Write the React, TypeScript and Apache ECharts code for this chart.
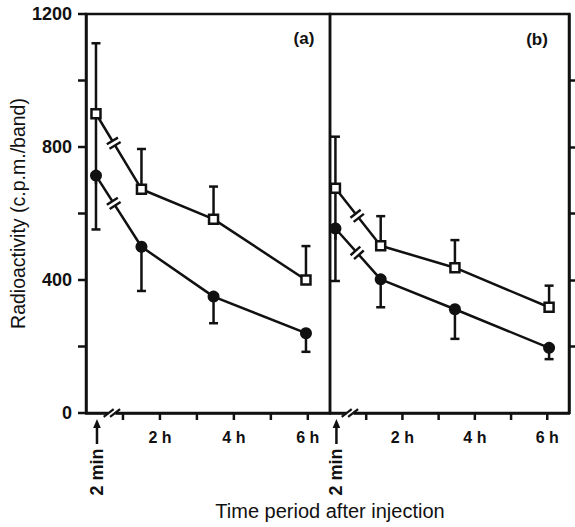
import React, { useEffect, useRef } from "react";
import * as echarts from "echarts";

// ---- data ----
const yTickValues = [0, 200, 400, 600, 800, 1000, 1200];
const yLabelValues = [0, 400, 800, 1200];
const rightTickValues = [200, 400, 600, 800, 1000];
const xTickHours = [1, 2, 3, 4, 5, 6];
const xLabelHours = [2, 4, 6];

const timesA = [0.27, 1.5, 3.45, 5.95];
const squareA = [900, 673, 583, 400];
const squareErrTopA = [1112, 794, 681, 502];
const squareErrLowA = [688, null, null, null];
const circleA = [714, 500, 350, 240];
const circleErrBottomA = [552, 367, 270, 184];

const timesB = [0.15, 1.4, 3.45, 6.05];
const squareB = [676, 503, 437, 318];
const squareErrTopB = [831, 592, 520, 383];
const squareErrLowB = [521, null, null, null];
const circleB = [555, 402, 312, 196];
const circleErrBottomB = [397, 318, 223, 162];

const lineBreakX = [0.75, 0.75];
const axisBreakX = [0.7, 0.55];
const panelLabels = ["(a)", "(b)"];
const startLabel = "2 min";
const yTitle = "Radioactivity (c.p.m./band)";
const xTitle = "Time period after injection";

const INK = "#111";
const FONT = '"Liberation Sans", Arial, Helvetica, sans-serif';

function errorData(times: number[], vals: number[], tops: (number | null)[] | null, bottoms: (number | null)[] | null, lows: (number | null)[] | null) {
  const out: number[][] = [];
  times.forEach((t, i) => {
    if (tops && tops[i] != null) out.push([t, vals[i], tops[i] as number, 0, 1]);
    if (bottoms && bottoms[i] != null) out.push([t, bottoms[i] as number, vals[i], 1, 0]);
    if (lows && lows[i] != null) out.push([t, lows[i] as number, vals[i], 0, 0]);
  });
  return out;
}

function renderError(params: any, api: any) {
  const x = api.value(0);
  const lo = api.value(1);
  const hi = api.value(2);
  const capLo = api.value(3);
  const capHi = api.value(4);
  const pLo = api.coord([x, lo]);
  const pHi = api.coord([x, hi]);
  const style = { stroke: INK, lineWidth: 2.5 };
  const children: any[] = [
    { type: "line", shape: { x1: pLo[0], y1: pLo[1], x2: pHi[0], y2: pHi[1] }, style },
  ];
  const cw = 4.5;
  if (capLo) children.push({ type: "line", shape: { x1: pLo[0] - cw, y1: pLo[1], x2: pLo[0] + cw, y2: pLo[1] }, style });
  if (capHi) children.push({ type: "line", shape: { x1: pHi[0] - cw, y1: pHi[1], x2: pHi[0] + cw, y2: pHi[1] }, style });
  return { type: "group", children };
}

function renderLineBreak(params: any, api: any) {
  const bx = api.value(0);
  const x1 = api.value(1), y1 = api.value(2), x2 = api.value(3), y2 = api.value(4);
  const p1 = api.coord([x1, y1]);
  const p2 = api.coord([x2, y2]);
  const t = (bx - x1) / (x2 - x1);
  const c = [p1[0] + t * (p2[0] - p1[0]), p1[1] + t * (p2[1] - p1[1])];
  const len = Math.hypot(p2[0] - p1[0], p2[1] - p1[1]);
  const d = [(p2[0] - p1[0]) / len, (p2[1] - p1[1]) / len];
  const n = [-d[1], d[0]];
  const g = 2.6;
  const w = 3;
  const h = 6.5;
  const pt = (a: number, b: number) => [c[0] + d[0] * a + n[0] * b, c[1] + d[1] * a + n[1] * b];
  const style = { stroke: INK, lineWidth: 2.4 };
  return {
    type: "group",
    children: [
      { type: "polygon", shape: { points: [pt(-g, -w), pt(g, -w), pt(g, w), pt(-g, w)] }, style: { fill: "#fff" } },
      { type: "line", shape: { x1: pt(-g, -h)[0], y1: pt(-g, -h)[1], x2: pt(-g, h)[0], y2: pt(-g, h)[1] }, style },
      { type: "line", shape: { x1: pt(g, -h)[0], y1: pt(g, -h)[1], x2: pt(g, h)[0], y2: pt(g, h)[1] }, style },
    ],
  };
}

function renderAxisBreak(params: any, api: any) {
  const c = api.coord([api.value(0), 0]);
  const style = { stroke: INK, lineWidth: 2.2 };
  const children: any[] = [
    { type: "rect", shape: { x: c[0] - 3.5, y: c[1] - 2.5, width: 7, height: 5 }, style: { fill: "#fff" } },
  ];
  [-3.2, 3.2].forEach((o) => {
    children.push({ type: "line", shape: { x1: c[0] + o - 5, y1: c[1] + 3.8, x2: c[0] + o + 5, y2: c[1] - 3.8 }, style });
  });
  return { type: "group", children };
}

function renderStart(params: any, api: any) {
  const c = api.coord([api.value(0), 0]);
  const x = c[0] + 1;
  const style = { stroke: INK, lineWidth: 2.5 };
  return {
    type: "group",
    children: [
      { type: "line", shape: { x1: x, y1: c[1] + 12, x2: x, y2: c[1] + 31 }, style },
      { type: "polygon", shape: { points: [[x, c[1] + 6], [x - 3.8, c[1] + 15], [x + 3.8, c[1] + 15]] }, style: { fill: INK } },
      {
        type: "text",
        x: x,
        y: c[1] + 59,
        rotation: Math.PI / 2,
        style: { text: startLabel, x: 0, y: 0, align: "center", verticalAlign: "middle", font: `bold 18px ${FONT}`, fill: INK },
      },
    ],
  };
}

function panelSeries(idx: number, times: number[], sq: number[], sqTop: (number | null)[], sqLow: (number | null)[], ci: number[], ciBot: (number | null)[]) {
  const base = { xAxisIndex: idx, yAxisIndex: idx };
  return [
    {
      ...base,
      type: "custom",
      renderItem: renderError,
      data: [...errorData(times, sq, sqTop, null, sqLow), ...errorData(times, ci, null, ciBot, null)],
      encode: { x: 0, y: 1 },
      clip: false,
      z: 1,
      silent: true,
    },
    {
      ...base,
      type: "line",
      data: times.map((t, i) => [t, sq[i]]),
      symbol: "rect",
      symbolSize: 9,
      itemStyle: { color: "#fff", borderColor: INK, borderWidth: 2.5 },
      lineStyle: { color: INK, width: 2.5 },
      z: 3,
    },
    {
      ...base,
      type: "line",
      data: times.map((t, i) => [t, ci[i]]),
      symbol: "circle",
      symbolSize: 12,
      itemStyle: { color: INK },
      lineStyle: { color: INK, width: 2.5 },
      z: 3,
    },
    {
      ...base,
      type: "custom",
      renderItem: renderLineBreak,
      data: [
        [lineBreakX[idx], times[0], sq[0], times[1], sq[1]],
        [lineBreakX[idx], times[0], ci[0], times[1], ci[1]],
      ],
      encode: { x: 0, y: 2 },
      clip: false,
      z: 6,
      silent: true,
    },
    {
      ...base,
      type: "custom",
      renderItem: renderAxisBreak,
      data: [[axisBreakX[idx], 0]],
      encode: { x: 0, y: 1 },
      clip: false,
      z: 6,
      silent: true,
    },
    {
      ...base,
      type: "custom",
      renderItem: renderStart,
      data: [[times[0], 0]],
      encode: { x: 0, y: 1 },
      clip: false,
      z: 6,
      silent: true,
    },
  ];
}

const xAxisFor = (idx: number) => ({
  gridIndex: idx,
  type: "value",
  min: 0,
  max: 6.6,
  interval: 1,
  axisLine: { show: true, onZero: false, lineStyle: { color: INK, width: 2.5 } },
  splitLine: { show: false },
  axisTick: { show: false },
  axisLabel: {
    formatter: (v: number) => (xLabelHours.indexOf(v) >= 0 ? `${v} h` : ""),
    showMinLabel: false,
    showMaxLabel: false,
    fontSize: 16,
    fontWeight: "bold",
    fontFamily: FONT,
    color: INK,
    margin: 16,
  },
});

const textGraphics = () => [
  { id: "lblA", type: "text", x: 304, y: 38, z: 100, style: { text: panelLabels[0], align: "center", verticalAlign: "middle", textAlign: "center", textVerticalAlign: "middle", font: `bold 17px ${FONT}`, fill: INK } },
  { id: "lblB", type: "text", x: 537, y: 39, z: 100, style: { text: panelLabels[1], align: "center", verticalAlign: "middle", textAlign: "center", textVerticalAlign: "middle", font: `bold 17px ${FONT}`, fill: INK } },
  { id: "xTitle", type: "text", x: 330, y: 511, z: 100, style: { text: xTitle, align: "center", verticalAlign: "middle", textAlign: "center", textVerticalAlign: "middle", font: `20px ${FONT}`, fill: INK } },
];

export default function App() {
  const ref = useRef<HTMLDivElement>(null);
  useEffect(() => {
    document.body.style.margin = "0";
    const chart = echarts.init(ref.current!, null, { renderer: "svg" });
    chart.setOption({
      animation: false,
      backgroundColor: "#fff",
      grid: [
        { left: 86, top: 14, width: 244, height: 399, show: true, borderColor: INK, borderWidth: 2.5, backgroundColor: "transparent" },
        { left: 330, top: 14, width: 239, height: 399, show: true, borderColor: INK, borderWidth: 2.5, backgroundColor: "transparent" },
      ],
      xAxis: [xAxisFor(0), xAxisFor(1)],
      yAxis: [
        {
          gridIndex: 0,
          type: "value",
          min: 0,
          max: 1200,
          interval: 200,
          axisLine: { show: true, onZero: false, lineStyle: { color: INK, width: 2.5 } },
          splitLine: { show: false },
          axisTick: { show: false },
          axisLabel: {
            formatter: (v: number) => (yLabelValues.indexOf(v) >= 0 ? String(v) : ""),
            fontSize: 18,
            fontWeight: "bold",
            fontFamily: FONT,
            color: INK,
            margin: 14,
          },
          name: yTitle,
          nameLocation: "middle",
          nameGap: 58,
          nameTextStyle: { fontSize: 19.5, fontFamily: FONT, color: INK },
        },
        {
          gridIndex: 1,
          type: "value",
          position: "right",
          min: 0,
          max: 1200,
          interval: 200,
          axisLine: { show: true, onZero: false, lineStyle: { color: INK, width: 2.5 } },
          splitLine: { show: false },
          axisTick: { show: true, length: 7, customValues: rightTickValues, lineStyle: { color: INK, width: 2.5 } },
          axisLabel: { show: false },
        },
      ],
      graphic: textGraphics(),
      series: [
        ...panelSeries(0, timesA, squareA, squareErrTopA, squareErrLowA, circleA, circleErrBottomA),
        ...panelSeries(1, timesB, squareB, squareErrTopB, squareErrLowB, circleB, circleErrBottomB),
      ],
    });

    // outward ticks on the left and bottom axes, placed through the axes' scales
    const tickStyle = { stroke: INK, lineWidth: 2.5 };
    const ticks: any[] = [];
    [0, 1].forEach((gi) => {
      xTickHours.forEach((hr) => {
        const p = chart.convertToPixel({ gridIndex: gi }, [hr, 0]) as number[];
        ticks.push({ id: `xt${gi}_${hr}`, type: "line", z: 100, silent: true, shape: { x1: p[0], y1: p[1], x2: p[0], y2: p[1] + 7 }, style: tickStyle });
      });
    });
    yTickValues.forEach((v) => {
      const p = chart.convertToPixel({ gridIndex: 0 }, [0, v]) as number[];
      ticks.push({ id: `yt_${v}`, type: "line", z: 100, silent: true, shape: { x1: p[0] - 8, y1: p[1], x2: p[0], y2: p[1] }, style: tickStyle });
    });
    chart.setOption({ graphic: [...textGraphics(), ...ticks] });

    return () => chart.dispose();
  }, []);
  return <div ref={ref} style={{ width: 575, height: 527 }} />;
}
